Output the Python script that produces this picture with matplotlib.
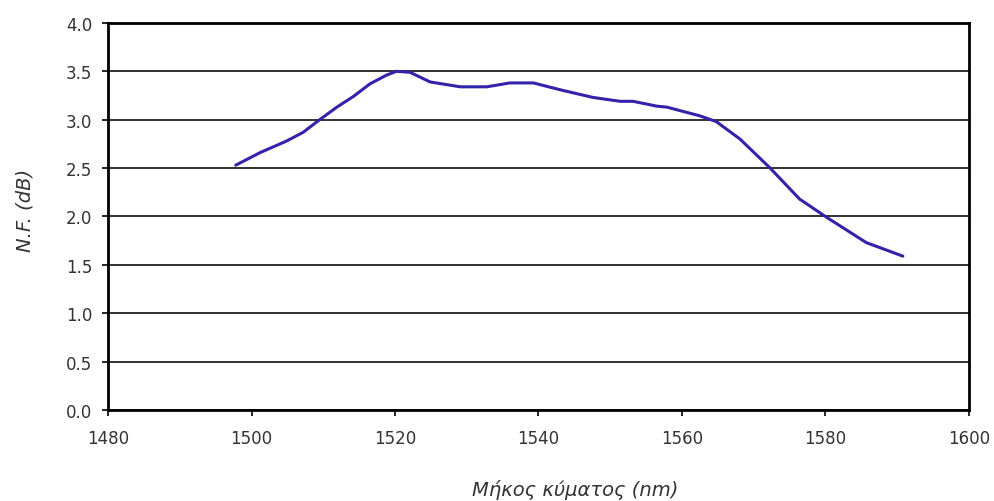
import matplotlib
matplotlib.use("Agg")
import matplotlib.pyplot as plt

# Noise figure vs wavelength
wavelength_nm = [1497.8, 1501.2, 1504.9, 1507.2, 1509.5, 1511.9, 1514.2, 1516.5,
                 1518.8, 1520.2, 1522.1, 1524.9, 1529.1, 1532.8, 1536.0, 1539.3,
                 1543.0, 1547.6, 1551.4, 1553.2, 1556.5, 1557.9, 1562.5, 1564.8,
                 1568.1, 1572.3, 1576.4, 1580.2, 1585.7, 1590.8]
noise_figure_db = [2.53, 2.66, 2.78, 2.87, 3.00, 3.13, 3.24, 3.37,
                   3.46, 3.50, 3.49, 3.39, 3.34, 3.34, 3.38, 3.38,
                   3.31, 3.23, 3.19, 3.19, 3.14, 3.13, 3.04, 2.98,
                   2.80, 2.50, 2.18, 1.99, 1.73, 1.59]

x_ticks = [1480, 1500, 1520, 1540, 1560, 1580, 1600]
y_ticks = [0.0, 0.5, 1.0, 1.5, 2.0, 2.5, 3.0, 3.5, 4.0]

plt.rcParams['font.family'] = ['DejaVu Sans']

fig = plt.figure(figsize=(9.94, 5.02), dpi=100)
ax = fig.add_axes([0.1087, 0.1813, 0.866, 0.771])

ax.plot(wavelength_nm, noise_figure_db, color='#3322aa', lw=2.2,
        solid_joinstyle='round', solid_capstyle='round', zorder=3)

ax.set_xlim(1480, 1600)
ax.set_ylim(0, 4.0)
ax.set_xticks(x_ticks)
ax.set_yticks(y_ticks)
ax.set_yticklabels([f"{v:.1f}" for v in y_ticks])
ax.yaxis.grid(True, color='#222222', lw=1.3)
ax.set_axisbelow(True)

for s in ax.spines.values():
    s.set_color('black')
    s.set_linewidth(2.0)

ax.tick_params(axis='both', direction='out', length=4.5, width=1.2,
               labelsize=12, colors='black', labelcolor='#333333')
ax.tick_params(axis='y', pad=7)
ax.tick_params(axis='x', pad=9)

ax.set_ylabel('N.F. (dB)', fontsize=14, style='italic', color='#333333',
              va='center', ha='center')
ax.yaxis.set_label_coords(-0.0964, 0.519)
ax.set_xlabel('Μήκος κύματος (nm)', fontsize=14, style='italic', color='#333333',
              va='center', ha='center')
ax.xaxis.set_label_coords(0.543, -0.204)

fig.savefig('out.png', dpi=100, facecolor='white')
